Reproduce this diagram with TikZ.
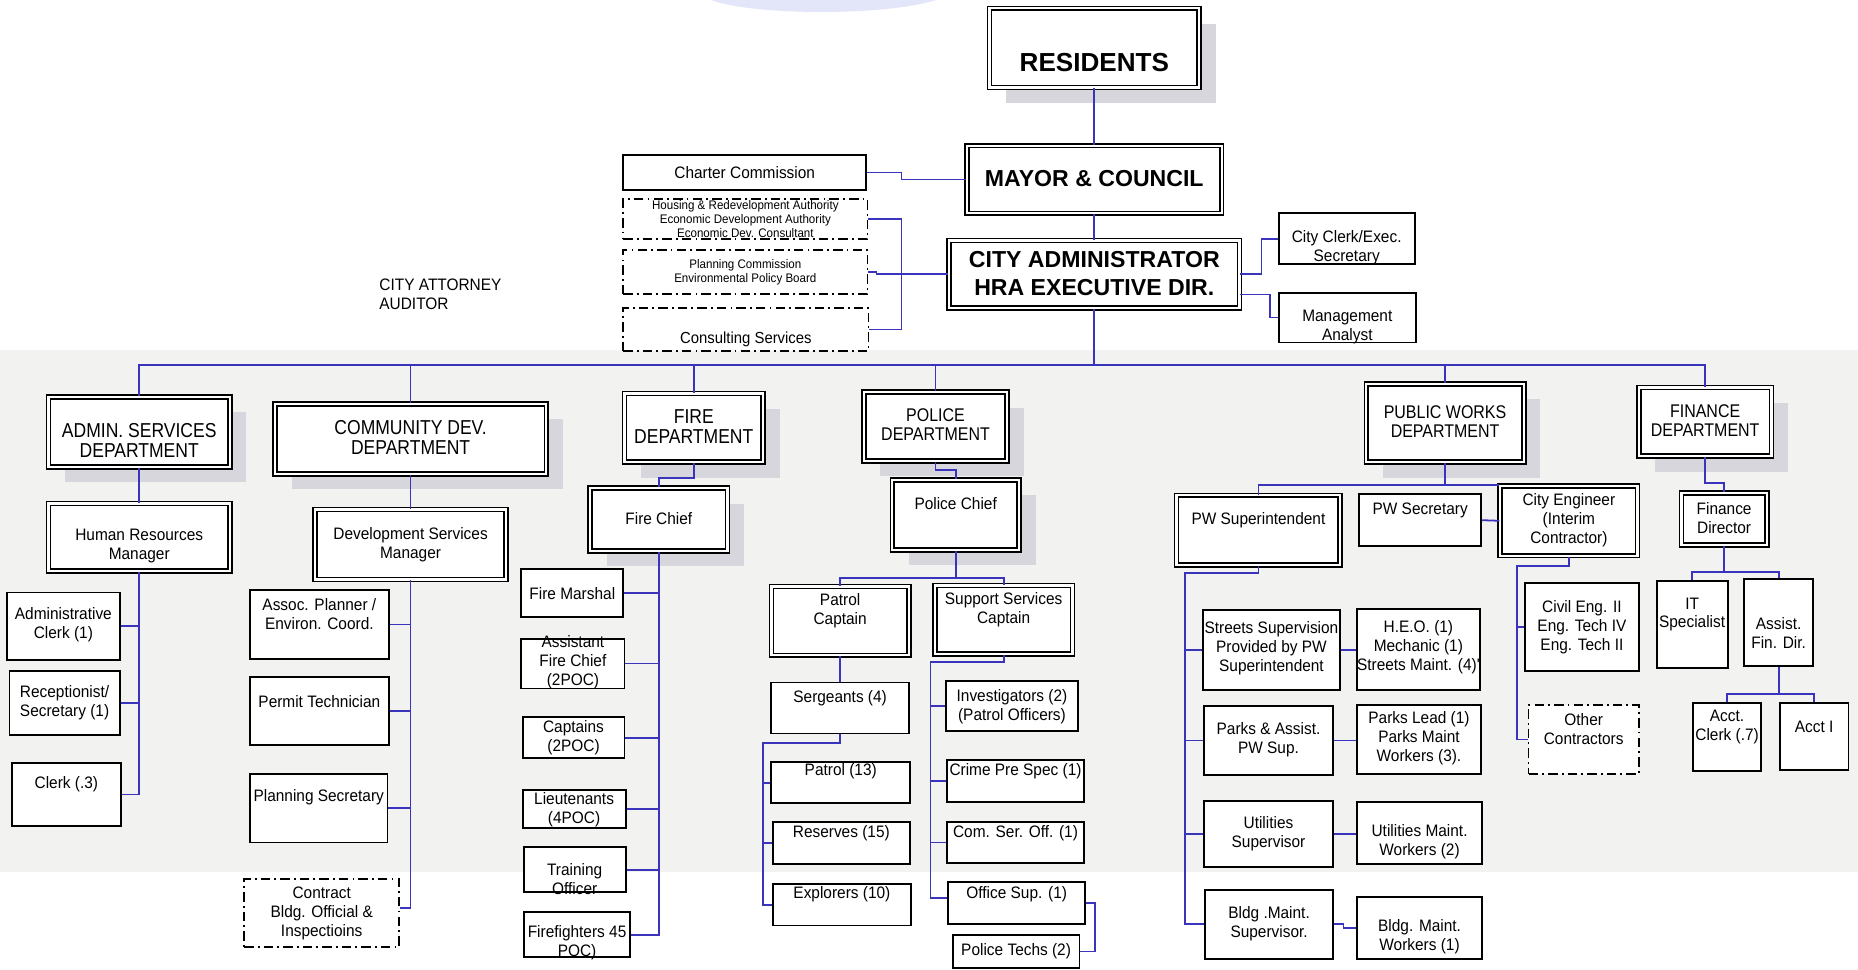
\documentclass[tikz,border=0pt]{standalone}
\usepackage{fontspec}
\setmainfont{Liberation Sans}
\newfontfamily\bodyf[FakeStretch=0.93]{Liberation Sans}
\newfontfamily\deptf[FakeStretch=0.87]{Liberation Sans}
\usetikzlibrary{shadows}
\definecolor{lnblue}{RGB}{58,52,188}
\definecolor{shgray}{RGB}{214,214,220}
\definecolor{bandgray}{RGB}{242,242,240}
\definecolor{swoosh}{RGB}{226,230,248}
\tikzset{
 sbox/.style={draw=black, line width=1.6pt, fill=white, inner sep=0pt},
 dbox/.style={draw=black, double=white, double distance=2pt, line width=1.3pt, fill=white, inner sep=0pt},
 dabox/.style={draw=black, line width=1.5pt, fill=white, inner sep=0pt, dash pattern=on 8pt off 3.5pt on 1.5pt off 3.5pt},
 shd/.style={drop shadow={shadow xshift=14pt, shadow yshift=-13pt, fill=shgray, opacity=1}},
 txt/.style={align=center, inner sep=0pt},
 fB/.style={font=\bodyf\fontsize{14}{16}\selectfont},
 fC/.style={font=\bodyf\fontsize{13.5}{16}\selectfont},
 fS/.style={font=\bodyf\fontsize{10.5}{12}\selectfont},
 fD/.style={font=\deptf\fontsize{17}{17}\selectfont},
 fd/.style={font=\deptf\fontsize{15.5}{16}\selectfont},
 fT/.style={font=\bfseries\fontsize{19.5}{23.5}\selectfont},
 fR/.style={font=\bfseries\fontsize{22}{26}\selectfont},
 ln/.style={draw=lnblue, line width=1.5pt},
}
% #1 name, #2 x1, #3 y1, #4 x2, #5 y2, #6 box style, #7 text style, #8 text drop, #9 text
\newcommand\bx[9]{%
 \node[#6, minimum width={(#4-#2-2)*1pt}, minimum height={(#5-#3-2)*1pt}] (#1) at ({(#2+#4)/2},{(#3+#5)/2}) {};
 \node[txt,#7] (#1t) at ([yshift={-(#8)*1pt}]#1.center) {#9};}
\begin{document}
\begin{tikzpicture}[x=1pt,y=-1pt]
\useasboundingbox (0,0) rectangle (1568,818);
\fill[white] (0,0) rectangle (1568,818);
\fill[bandgray] (0,295) rectangle (1568,736);
\fill[swoosh] (600,0) .. controls (635,13) and (745,14) .. (790,0) -- cycle;

% top
\bx{res}{834}{6}{1013}{75}{dbox,shd}{fR}{12}{RESIDENTS}
\bx{mayor}{815}{122}{1032}{181}{dbox}{fT}{-1}{MAYOR \& COUNCIL}
\bx{charter}{525}{130}{732}{161}{sbox}{fB}{0}{Charter Commission}
\bx{hra}{525}{167}{733}{203}{dabox}{fS}{0}{Housing \& Redevelopment Authority\\Economic Development Authority\\Economic Dev. Consultant}
\bx{plan}{525}{210}{733}{249}{dabox}{fS}{0}{Planning Commission\\Environmental Policy Board}
\bx{consult}{525}{259}{734}{297}{dabox}{fC}{8}{Consulting Services}
\bx{cadmin}{800}{202}{1047}{261}{dbox}{fT}{-1}{CITY ADMINISTRATOR\\HRA EXECUTIVE DIR.}
\bx{clerk}{1078}{179}{1195}{224}{sbox}{fB}{7.5}{City Clerk/Exec.\\Secretary}
\bx{mgmt}{1078}{246}{1196}{290}{sbox}{fB}{8}{Management\\Analyst}
\node[fB, align=left, anchor=west, inner sep=0pt] (atty) at (320,248) {CITY ATTORNEY\\AUDITOR};

% departments
\bx{admin}{40}{334}{195}{395}{dbox,shd}{fD}{7}{ADMIN. SERVICES\\DEPARTMENT}
\bx{commdev}{231}{340}{462}{401}{dbox,shd}{fD}{-1.5}{COMMUNITY DEV.\\DEPARTMENT}
\bx{fire}{526}{331}{645}{391}{dbox,shd}{fD}{-1}{FIRE\\DEPARTMENT}
\bx{police}{728}{330}{851}{390}{dbox,shd}{fd}{-2}{POLICE\\DEPARTMENT}
\bx{pw}{1152}{323}{1287}{391}{dbox,shd}{fd}{-1.5}{PUBLIC WORKS\\DEPARTMENT}
\bx{fin}{1382}{326}{1496}{386}{dbox,shd}{fd}{-1}{FINANCE\\DEPARTMENT}

% second level
\bx{hr}{40}{424}{195}{483}{dbox}{fB}{7}{Human Resources\\Manager}
\bx{dsm}{265}{429}{428}{490}{dbox}{fB}{0}{Development Services\\Manager}
\bx{fchief}{497}{411}{615}{466}{dbox,shd}{fB}{-1}{Fire Chief}
\bx{pchief}{752}{404}{861}{465}{dbox,shd}{fB}{-9.5}{Police Chief}

% admin
\bx{aclerk}{5}{499}{102}{558}{sbox}{fB}{-1}{Administrative\\Clerk (1)}
\bx{recep}{7}{565}{102}{621}{sbox}{fB}{0}{Receptionist/\\Secretary (1)}
\bx{clerkb}{9}{643}{103}{698}{sbox}{fB}{-8.5}{Clerk (.3)}

% community
\bx{assoc}{210}{497}{329}{557}{sbox}{fB}{-8.5}{Assoc. Planner /\\Environ. Coord.}
\bx{permit}{210}{570}{329}{630}{sbox}{fB}{-8}{Permit Technician}
\bx{plansec}{210}{652}{328}{712}{sbox}{fB}{-9}{Planning Secretary}
\bx{contract}{205}{741}{338}{800}{dabox}{fB}{0}{Contract\\Bldg. Official \&\\Inspectioins}

% fire
\bx{fmarshal}{439}{479}{527}{522}{sbox}{fB}{0}{Fire Marshal}
\bx{afc}{439}{538}{528}{582}{sbox}{fB}{-1}{Assistant\\Fire Chief\\(2POC)}
\bx{captains}{440}{604}{528}{641}{sbox}{fB}{0}{Captains\\(2POC)}
\bx{lieut}{440}{666}{529}{700}{sbox}{fB}{0}{Lieutenants\\(4POC)}
\bx{training}{441}{714}{529}{754}{sbox}{fB}{7.5}{Training\\Officer}
\bx{ffight}{441}{769}{533}{809}{sbox}{fB}{6.5}{Firefighters 45\\POC)}

% police
\bx{patcap}{650}{494}{768}{554}{dbox}{fB}{-9}{Patrol\\Captain}
\bx{supcap}{788}{493}{906}{553}{dbox}{fB}{-8.5}{Support Services\\Captain}
\bx{serg}{650}{575}{768}{620}{sbox}{fB}{-8.5}{Sergeants (4)}
\bx{patrol}{650}{642}{769}{679}{sbox}{fB}{-9.5}{Patrol (13)}
\bx{reserves}{651}{693}{769}{730}{sbox}{fB}{-8}{Reserves (15)}
\bx{explorers}{651}{745}{770}{782}{sbox}{fB}{-8.5}{Explorers (10)}
\bx{invest}{797}{574}{911}{618}{sbox}{fB}{0}{Investigators (2)\\(Patrol Officers)}
\bx{crime}{798}{640}{916}{678}{sbox}{fB}{-8.5}{Crime Pre Spec (1)}
\bx{comser}{798}{693}{916}{729}{sbox}{fB}{-8}{Com. Ser. Off. (1)}
\bx{office}{799}{743}{917}{781}{sbox}{fB}{-7.5}{Office Sup. (1)}
\bx{ptechs}{803}{788}{912}{818}{sbox}{fB}{0}{Police Techs (2)}

% public works
\bx{pwsup}{992}{417}{1132}{478}{dbox}{fB}{-8.7}{PW Superintendent}
\bx{pwsec}{1146}{416}{1251}{462}{sbox}{fB}{-8}{PW Secretary}
\bx{ceng}{1265}{409}{1383}{470}{dbox}{fB}{-0.7}{City Engineer\\(Interim\\Contractor)}
\bx{streets}{1014}{514}{1132}{583}{sbox}{fB}{-1.5}{Streets Supervision\\Provided by PW\\Superintendent}
\bx{heo}{1144}{513}{1250}{583}{sbox}{fB}{-1.5}{H.E.O. (1)\\Mechanic (1)\\Streets Maint. (4)'}
\bx{parks}{1015}{595}{1126}{655}{sbox}{fB}{-1}{Parks \& Assist.\\PW Sup.}
\bx{parkslead}{1144}{594}{1251}{654}{sbox}{fB}{-1}{Parks Lead (1)\\Parks Maint\\Workers (3).}
\bx{utilsup}{1015}{675}{1126}{733}{sbox}{fB}{-0.6}{Utilities\\Supervisor}
\bx{utilw}{1144}{676}{1252}{730}{sbox}{fB}{7.7}{Utilities Maint.\\Workers (2)}
\bx{bldgsup}{1016}{750}{1126}{810}{sbox}{fB}{-0.5}{Bldg .Maint.\\Supervisor.}
\bx{bldgw}{1144}{756}{1252}{810}{sbox}{fB}{7.4}{Bldg. Maint.\\Workers (1)}
\bx{civil}{1286}{491}{1384}{567}{sbox}{fB}{0}{Civil Eng. II\\Eng. Tech IV\\Eng. Tech II}
\bx{other}{1289}{594}{1384}{654}{dabox}{fB}{-8.7}{Other\\Contractors}

% finance
\bx{fdir}{1418}{415}{1492}{461}{dbox}{fB}{-1}{Finance\\Director}
\bx{it}{1397}{489}{1459}{565}{sbox}{fB}{-8.4}{IT\\Specialist}
\bx{afd}{1471}{488}{1531}{563}{sbox}{fB}{8.3}{Assist.\\Fin. Dir.}
\bx{acclerk}{1428}{592}{1487}{652}{sbox}{fB}{-8.2}{Acct.\\Clerk (.7)}
\bx{accti}{1501}{592}{1561}{651}{sbox}{fB}{-8.5}{Acct I}

% ---------- connectors ----------
\draw[ln] (res.south) -- (mayor.north);
\draw[ln] (mayor.south) -- (cadmin.north);
\draw[ln] (charter.east) -- ++(29,0) |- (mayor.west);
\draw[ln] (hra.east) -- ++(28,0) |- (consult.east);
\draw[ln] (plan.east) -- ++(7,0) |- (cadmin.west);
\draw[ln] (cadmin.east) -- ++(18,0) |- (clerk.west);
\draw[ln] ([yshift=-17pt]cadmin.east) -- ++(25,0) |- (mgmt.west);

\coordinate (bus) at (0,308);
\draw[ln] (cadmin.south) -- (cadmin.south |- bus);
\draw[ln] (admin.north) -- (admin.north |- bus) -- (fin.north |- bus) -- (fin.north);
\foreach \n in {commdev,fire,police,pw} \draw[ln] (\n.north) -- (\n.north |- bus);

% admin
\draw[ln] (admin.south) -- (hr.north);
\draw[ln] (hr.south) |- (clerkb.east);
\foreach \n in {aclerk,recep} \draw[ln] (\n.east) -- (\n.east -| hr.south);

% community
\draw[ln] (commdev.south) -- (dsm.north);
\draw[ln] (dsm.south) |- ([yshift=4pt]contract.east);
\foreach \n in {assoc,permit,plansec} \draw[ln] (\n.east) -- (\n.east -| dsm.south);

% fire
\draw[ln] (fire.south) -- ++(0,13) -| (fchief.north);
\draw[ln] (fchief.south) |- (ffight.east);
\foreach \n in {fmarshal,afc,captains,lieut,training} \draw[ln] (\n.east) -- (\n.east -| fchief.south);

% police
\draw[ln] (police.south) -- ++(0,7) -| (pchief.north);
\draw[ln] (pchief.south) -- ++(0,23) -| (patcap.north);
\draw[ln] (pchief.south) -- ++(0,23) -| (supcap.north);
\draw[ln] (patcap.south) -- (serg.north);
\coordinate (pv) at ([xshift=-7pt]explorers.west);
\draw[ln] (serg.south) -- ++(0,7) -| (pv) -- (explorers.west);
\foreach \n in {patrol,reserves} \draw[ln] (\n.west) -- (\n.west -| pv);
\coordinate (sv) at ([xshift=-14pt,yshift=4pt]office.west);
\draw[ln] (supcap.south) -- ++(0,6) -| (sv) -- ([yshift=4pt]office.west);
\foreach \n in {invest,crime,comser} \draw[ln] (\n.west) -- (\n.west -| sv);
\draw[ln] (office.east) -- ++(7,0) |- (ptechs.east);

% public works
\draw[ln] (pw.south) -- (pw.south |- ceng.north);
\draw[ln] (pwsup.north) |- (ceng.north west);
\draw[ln] (pwsec.east) -- (ceng.west);
\coordinate (wv) at ([xshift=-16pt]bldgsup.west);
\draw[ln] (pwsup.south) -- ++(0,6) -| (wv) -- (bldgsup.west);
\foreach \n in {streets,parks,utilsup} \draw[ln] (\n.west) -- (\n.west -| wv);
\draw[ln] (streets.east) -- (streets.east -| heo.west);
\draw[ln] (parks.east) -- (parks.east -| parkslead.west);
\draw[ln] (utilsup.east) -- (utilsup.east -| utilw.west);
\draw[ln] (bldgsup.east) -- ++(8,0) |- (bldgw.west);
\coordinate (ev) at ([xshift=-9pt]other.west);
\draw[ln] (ceng.south) -- ++(0,8) -| (ev) -- (other.west);
\draw[ln] (civil.west) -- (civil.west -| ev);

% finance
\draw[ln] (fin.south) -- ++(0,22) -| (fdir.north);
\draw[ln] (fdir.south) -- ++(0,22) -| (it.north);
\draw[ln] (fdir.south) -- ++(0,22) -| (afd.north);
\draw[ln] (afd.south) -- ++(0,23) -| (acclerk.north);
\draw[ln] (afd.south) -- ++(0,23) -| (accti.north);
\end{tikzpicture}
\end{document}
